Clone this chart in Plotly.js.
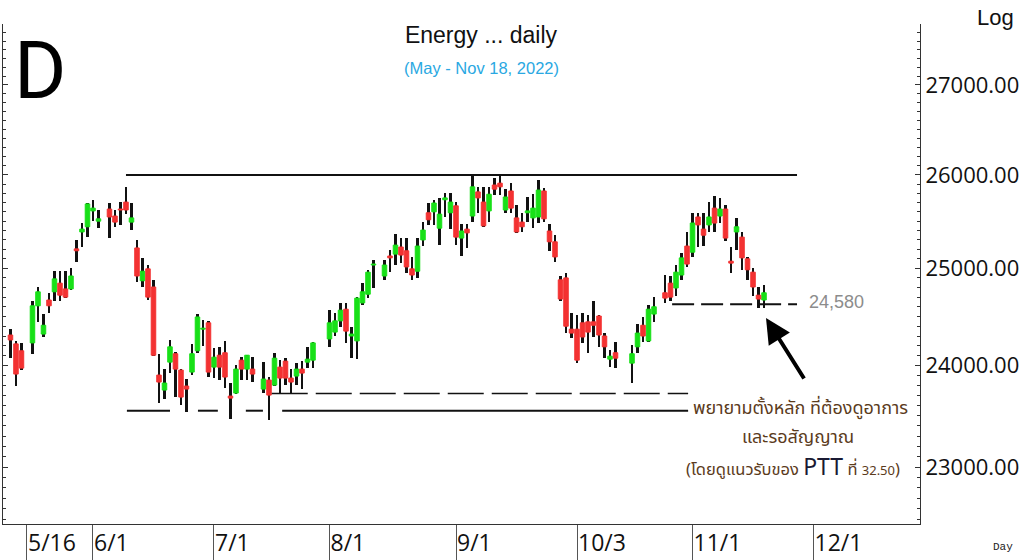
<!DOCTYPE html>
<html><head><meta charset="utf-8">
<script src="https://cdn.plot.ly/plotly-3.0.1.min.js"></script>
<style>html,body{margin:0;padding:0;background:#fff}#chart{width:1019px;height:560px}</style>
</head><body><div id="chart"></div>
<script>
// ---- data ----
const dates = [
 '2022-05-11','2022-05-12','2022-05-13','2022-05-17','2022-05-18','2022-05-19','2022-05-20','2022-05-23','2022-05-24','2022-05-25','2022-05-26','2022-05-27','2022-05-30','2022-05-31',
 '2022-06-01','2022-06-02','2022-06-06','2022-06-07','2022-06-08','2022-06-09','2022-06-10','2022-06-13','2022-06-14','2022-06-15','2022-06-16','2022-06-17','2022-06-20','2022-06-21','2022-06-22','2022-06-23','2022-06-24','2022-06-27','2022-06-28','2022-06-29','2022-06-30',
 '2022-07-01','2022-07-04','2022-07-05','2022-07-06','2022-07-07','2022-07-08','2022-07-11','2022-07-12','2022-07-14','2022-07-15','2022-07-18','2022-07-19','2022-07-20','2022-07-21','2022-07-22','2022-07-25','2022-07-26','2022-07-27',
 '2022-08-01','2022-08-02','2022-08-03','2022-08-04','2022-08-05','2022-08-08','2022-08-09','2022-08-10','2022-08-11','2022-08-15','2022-08-16','2022-08-17','2022-08-18','2022-08-19','2022-08-22','2022-08-23','2022-08-24','2022-08-25','2022-08-26','2022-08-29','2022-08-30','2022-08-31',
 '2022-09-01','2022-09-02','2022-09-05','2022-09-06','2022-09-07','2022-09-08','2022-09-09','2022-09-12','2022-09-13','2022-09-14','2022-09-15','2022-09-16','2022-09-19','2022-09-20','2022-09-21','2022-09-22','2022-09-23','2022-09-26','2022-09-27','2022-09-28','2022-09-29','2022-09-30',
 '2022-10-03','2022-10-04','2022-10-05','2022-10-06','2022-10-07','2022-10-10','2022-10-11','2022-10-12','2022-10-17','2022-10-18','2022-10-19','2022-10-20','2022-10-21','2022-10-25','2022-10-26','2022-10-27','2022-10-28','2022-10-31',
 '2022-11-01','2022-11-02','2022-11-03','2022-11-04','2022-11-07','2022-11-08','2022-11-09','2022-11-10','2022-11-11','2022-11-14','2022-11-15','2022-11-16','2022-11-17','2022-11-18'
];
const openVals = [
 24310,24220,24150,24230,24610,24320,24670,24755,24845,24785,24785,25205,25385,25440,
 25610,25500,25630,25555,25630,25705,25490,25215,24870,24995,24805,23905,23755,24035,24120,23955,23795,23935,24150,24370,24435,
 23985,24105,24130,23695,23725,24055,23965,23965,23765,23855,23805,23985,24045,23875,23895,23965,24035,24055,
 24270,24340,24455,24575,24300,24250,24640,24730,25035,24920,25130,25150,25225,25185,24995,24970,25300,25590,25600,25425,25730,25590,
 25665,25320,25415,25555,25815,25705,25610,25890,25910,25620,25825,25535,25490,25590,25535,25545,25825,25395,25280,24880,24900,24370,
 24370,24435,24445,24445,24505,24300,24065,24130,24025,24190,24410,24250,24525,24745,24845,24795,24930,25235,
 25170,25545,25415,25460,25640,25555,25630,25075,25385,25330,25100,24960,24720,24670
];
const highVals = [
 24370,24250,24230,24660,24805,24525,24745,24970,24970,24970,25005,25300,25480,25690,
 25730,25620,25695,25620,25705,25870,25695,25300,25110,25035,24880,24120,23965,24260,24140,23965,23865,24220,24525,24465,24455,
 24180,24190,24250,23825,24005,24085,24110,24085,24035,23885,24130,24055,24075,23965,24025,24045,24190,24240,
 24565,24535,24640,24640,24390,24700,24845,24985,25090,25090,25195,25365,25320,25320,25120,25320,25490,25695,25730,25750,25805,25805,
 25705,25470,25470,26010,25870,25870,25870,25965,26010,25845,25910,25675,25590,25760,25790,25945,25855,25470,25350,24920,24950,24535,
 24515,24535,24515,24660,24515,24330,24160,24240,24210,24425,24495,24620,24700,24930,24920,25035,25160,25385,
 25590,25590,25590,25705,25770,25750,25675,25225,25535,25385,25120,25005,24805,24825
];
const lowVals = [
 24080,23795,23955,24120,24445,24290,24535,24660,24660,24690,24775,25065,25225,25330,
 25500,25425,25320,25440,25460,25575,25405,24855,24805,24670,24095,23625,23665,23925,23685,23605,23535,23905,24130,24200,23885,
 23875,23855,23775,23470,23720,23855,23855,23835,23725,23460,23795,23725,23805,23725,23805,23765,23975,23975,
 24190,24300,24390,24230,24075,24065,24620,24690,24795,24880,24960,25035,25055,24950,24880,24900,25235,25460,25460,25245,25545,25415,
 25245,25130,25215,25490,25590,25440,25490,25780,25780,25590,25590,25375,25385,25490,25425,25480,25490,25185,25065,24660,24330,24280,
 24025,24230,24130,24290,24190,24075,23985,23975,23825,24130,24240,24240,24445,24640,24660,24710,24880,25015,
 25120,25225,25235,25385,25385,25480,25290,24950,25195,24985,24880,24710,24590,24590
];
const closeVals = [
 24260,23915,23975,24610,24755,24410,24610,24890,24720,24700,24920,25185,25415,25685,
 25640,25525,25545,25490,25620,25620,25535,24920,24970,24700,24105,23835,23825,24190,23965,23685,23765,24120,24495,24380,23935,
 24085,23985,23885,23675,23965,23965,24105,23915,23865,23705,24075,23875,23875,23835,23965,23925,24065,24230,
 24435,24455,24565,24350,24320,24690,24755,24960,25045,25035,25110,25245,25140,25015,24930,25235,25405,25515,25695,25575,25750,25705,
 25330,25395,25375,25870,25750,25450,25790,25845,25870,25760,25640,25385,25440,25610,25640,25835,25525,25280,25120,24680,24400,24330,
 24055,24290,24340,24410,24310,24190,24095,24075,24120,24330,24300,24575,24600,24690,24700,24960,25110,25045,
 25480,25460,25350,25545,25480,25630,25320,25055,25440,25110,24985,24805,24680,24745
];
const xTickDates  = ['2022-05-16','2022-06-01','2022-07-01','2022-08-01','2022-09-01','2022-10-03','2022-11-01','2022-12-01'];
const xTickLabels = ['5/16','6/1','7/1','8/1','9/1','10/3','11/1','12/1'];
const yLabelValues = [23000, 24000, 25000, 26000, 27000];
const resistanceLevel = 26000;
const supportLevel = 23550;
const innerSupportLevel = 23720;
const watchLevel = 24625;          // where the drawn 24,580 line sits in the picture
const watchLabel = '24,580';
const arrowTarget = {date: '2022-11-18 20:40', value: 24485};

// ---- building ----
const noon = d => d + ' 12:00';
const xs = dates.map(noon);
const DAY = 86400000;
const up = [], dn = [];
dates.forEach((d, i) => (closeVals[i] >= openVals[i] ? up : dn).push(i));

const GREEN = '#18e018', RED = '#f33232';
function bodyTrace(idx, color) {
  return {
    type: 'bar', x: idx.map(i => xs[i]),
    base: idx.map(i => Math.min(openVals[i], closeVals[i])),
    y: idx.map(i => Math.abs(closeVals[i] - openVals[i])),
    width: 0.82 * DAY,
    marker: {color: color, line: {color: color, width: 1}},
    hoverinfo: 'skip'
  };
}
const wicks = {
  type: 'bar', x: xs, base: lowVals, y: highVals.map((h, i) => h - lowVals[i]),
  width: 0.38 * DAY, marker: {color: '#111', line: {width: 0}}, hoverinfo: 'skip'
};
function hline(segments, level, dash, width) {
  const x = [], y = [];
  segments.forEach(s => { x.push(s[0], s[1], null); y.push(level, level, null); });
  return {type: 'scatter', mode: 'lines', x: x, y: y, hoverinfo: 'skip',
          line: {color: '#111', width: width, dash: dash}};
}
const resistance = hline([['2022-06-09 12:00', '2022-11-28 12:00']], resistanceLevel, 'solid', 2);
const support = hline([
  ['2022-06-09 16:00', '2022-06-21 12:00'],
  ['2022-06-28 14:00', '2022-07-04 04:48'],
  ['2022-07-11 07:00', '2022-07-14 09:30'],
  ['2022-07-19 21:30', '2022-10-31 16:50']], supportLevel, 'solid', 2);
const innerSupport = hline([['2022-07-18 00:00', '2022-10-31 16:50']], innerSupportLevel, '36px,8px', 1.5);
const watch = hline([['2022-10-26 19:00', '2022-11-28 12:00']], watchLevel, '22px,7px', 2);
const dummy = {type: 'scatter', x: [], y: [], yaxis: 'y2', hoverinfo: 'skip'};

const majorTicks = [], majorText = [], minorTicks = [];
for (let v = 22500; v <= 27500; v += 500) {
  majorTicks.push(v);
  majorText.push(yLabelValues.includes(v) ? v.toFixed(2) : '');
}
for (let v = 22500; v <= 27600; v += 100) minorTicks.push(v);

const yRange = [4.35134, 4.44248];
const AX_FONT = "'Open Sans',sans-serif";
const SANS = "'Liberation Sans',Arial,sans-serif";
const THAI = "Tahoma,'Noto Sans Thai','Noto Sans Thai UI',Loma,Garuda,'Liberation Sans',sans-serif";

const layout = {
  width: 1019, height: 560,
  margin: {l: 3, r: 99, t: 24, b: 36},
  paper_bgcolor: '#fff', plot_bgcolor: '#fff',
  showlegend: false, barmode: 'overlay', bargap: 0,
  title: {text: 'Energy ... daily', x: 0.472, xanchor: 'center', y: 0.9375, yanchor: 'middle',
          font: {family: SANS, size: 23, color: '#111'}},
  xaxis: {
    type: 'date', range: ['2022-05-10 03:22', '2022-12-28 20:38'],
    rangebreaks: [{bounds: ['sat', 'mon']}],
    tickmode: 'array', tickvals: xTickDates.map(noon), ticktext: xTickLabels,
    ticks: 'outside', ticklen: 36, tickwidth: 1, tickcolor: '#555',
    ticklabelposition: 'outside right', ticklabelstandoff: -2,
    showline: true, linecolor: '#333', linewidth: 1,
    showgrid: false, zeroline: false, fixedrange: true,
    tickfont: {family: AX_FONT, size: 23, color: '#111'}
  },
  yaxis: {
    type: 'log', side: 'right', range: yRange,
    tickmode: 'array', tickvals: majorTicks, ticktext: majorText,
    ticks: 'inside', ticklen: 5, tickwidth: 1, tickcolor: '#333',
    showline: true, linecolor: '#333', linewidth: 1, mirror: 'ticks',
    showgrid: false, zeroline: false, fixedrange: true,
    tickfont: {family: AX_FONT, size: 22, color: '#111'},
    minor: {tickmode: 'array', tickvals: minorTicks, ticks: 'inside', ticklen: 3, tickcolor: '#333', showgrid: false}
  },
  yaxis2: {
    type: 'log', overlaying: 'y', side: 'left', anchor: 'x', range: yRange,
    showticklabels: false, showline: true, linecolor: '#333', ticks: '', showgrid: false, zeroline: false
  },
  annotations: [
    {text: 'D', xref: 'paper', yref: 'paper', x: 0.0414, y: 0.906, xanchor: 'center', yanchor: 'middle',
     showarrow: false, font: {family: "Roboto,'Liberation Sans',sans-serif", size: 80, color: '#000'}},
    {text: '(May - Nov 18, 2022)', xref: 'paper', yref: 'paper', x: 0.5213, y: 0.912, xanchor: 'center', yanchor: 'middle',
     showarrow: false, font: {family: SANS, size: 16.5, color: '#2aa8e2'}},
    {text: 'Log', xref: 'paper', yref: 'paper', x: 1.1047, y: 1.012, xanchor: 'right', yanchor: 'middle',
     showarrow: false, font: {family: SANS, size: 22, color: '#111'}},
    {text: 'Day', xref: 'paper', yref: 'paper', x: 1.1036, y: -0.046, xanchor: 'right', yanchor: 'middle',
     showarrow: false, font: {family: "'Liberation Mono','DejaVu Sans Mono',monospace", size: 11, color: '#222'}},
    {text: watchLabel, xref: 'paper', yref: 'y', x: 0.8768, y: Math.log10(watchLevel), xanchor: 'left', yanchor: 'middle',
     yshift: 2, showarrow: false, font: {family: SANS, size: 18, color: '#8c8c8c'}},
    {text: 'พยายามตั้งหลัก ที่ต้องดูอาการ', xref: 'paper', yref: 'paper', x: 0.8702, y: 0.232, xanchor: 'center', yanchor: 'middle',
     showarrow: false, font: {family: THAI, size: 18, color: '#5b3b1c'}},
    {text: 'และรอสัญญาณ', xref: 'paper', yref: 'paper', x: 0.8670, y: 0.174, xanchor: 'center', yanchor: 'middle',
     showarrow: false, font: {family: THAI, size: 18, color: '#5b3b1c'}},
    {text: '(โดยดูแนวรับของ <span style="font-size:23px;color:#1a1a33">PTT</span> ที่ <span style="font-size:13px">32.50</span>)',
     xref: 'paper', yref: 'paper', x: 0.8615, y: 0.112, xanchor: 'center', yanchor: 'middle',
     showarrow: false, font: {family: THAI, size: 16.5, color: '#5b3b1c'}},
    {text: '', xref: 'x', yref: 'y', x: arrowTarget.date, y: Math.log10(arrowTarget.value),
     showarrow: true, ax: 39, ay: 62, arrowhead: 2, arrowsize: 1.25, arrowwidth: 4, arrowcolor: '#000', standoff: 0}
  ]
};

Plotly.newPlot('chart', [wicks, bodyTrace(up, GREEN), bodyTrace(dn, RED), resistance, support, innerSupport, watch, dummy],
  layout, {staticPlot: true, displayModeBar: false});
</script>
</body></html>
